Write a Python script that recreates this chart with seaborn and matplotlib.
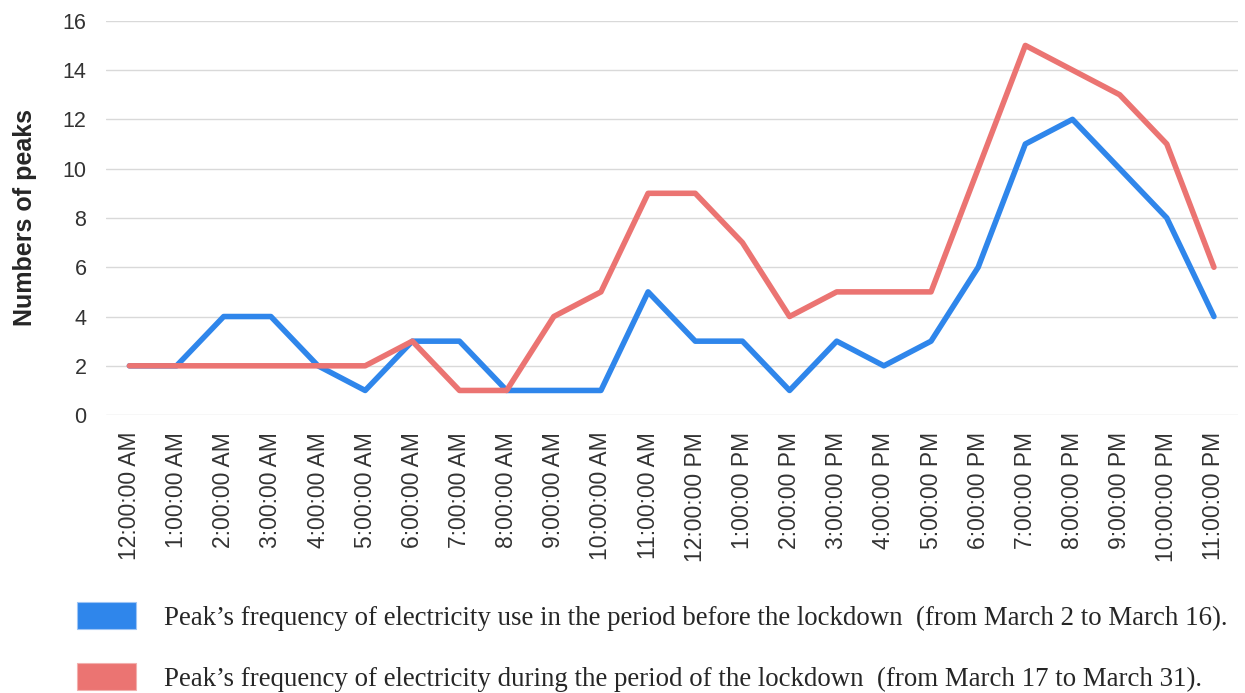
import matplotlib
matplotlib.use("Agg")
import matplotlib.pyplot as plt
from matplotlib.patches import Patch
import pandas as pd
import seaborn as sns

# hours of the day (x axis)
hours = ["12:00:00 AM", "1:00:00 AM", "2:00:00 AM", "3:00:00 AM", "4:00:00 AM",
         "5:00:00 AM", "6:00:00 AM", "7:00:00 AM", "8:00:00 AM", "9:00:00 AM",
         "10:00:00 AM", "11:00:00 AM", "12:00:00 PM", "1:00:00 PM", "2:00:00 PM",
         "3:00:00 PM", "4:00:00 PM", "5:00:00 PM", "6:00:00 PM", "7:00:00 PM",
         "8:00:00 PM", "9:00:00 PM", "10:00:00 PM", "11:00:00 PM"]

before = [2, 2, 4, 4, 2, 1, 3, 3, 1, 1, 1, 5, 3, 3, 1, 3, 2, 3, 6, 11, 12, 10, 8, 4]
during = [2, 2, 2, 2, 2, 2, 3, 1, 1, 4, 5, 9, 9, 7, 4, 5, 5, 5, 10, 15, 14, 13, 11, 6]

label_before = "Peak\u2019s frequency of electricity use in the period before the lockdown  (from March 2 to March 16)."
label_during = "Peak\u2019s frequency of electricity during the period of the lockdown  (from March 17 to March 31)."

blue = "#2F86EB"
red = "#EB7472"

df = pd.DataFrame({"hour": list(range(len(hours))) * 2,
                   "peaks": before + during,
                   "period": ["before"] * len(hours) + ["during"] * len(hours)})

sns.set_style("white")
plt.rcParams["font.family"] = ["Liberation Sans", "DejaVu Sans"]

fig = plt.figure(figsize=(12.45, 6.93), dpi=100)
ax = fig.add_axes([0.085, 0.401, 0.909, 0.569])

sns.lineplot(data=df, x="hour", y="peaks", hue="period",
             palette={"before": blue, "during": red}, linewidth=4,
             legend=False, ax=ax)

ax.set_xlim(-0.5, len(hours) - 0.5)
ax.set_ylim(0, 16)
ax.set_yticks(range(0, 17, 2))
ax.set_xticks(range(len(hours)))
ax.set_xticklabels(hours, rotation=90, fontsize=16.5, color="#333333")
ax.tick_params(axis="y", labelsize=15.5, labelcolor="#333333", length=0, pad=14)
ax.tick_params(axis="x", length=0, pad=12)
ax.set_xlabel("")
ax.set_ylabel("Numbers of peaks", fontsize=18, fontweight="bold", labelpad=18)
ax.grid(axis="y", color="#d9d9d9", linewidth=1)
ax.set_axisbelow(True)
sns.despine(ax=ax, left=True, bottom=True)

handles = [Patch(facecolor=blue, edgecolor="#9ec5f5", linewidth=0.8),
           Patch(facecolor=red, edgecolor="#f2b0ae", linewidth=0.8)]
fig.legend(handles, [label_before, label_during], loc="upper left",
           bbox_to_anchor=(0.062, 0.131), frameon=False,
           prop={"family": ["Liberation Serif"], "size": 19.4},
           handlelength=2.2, handleheight=1.17, handletextpad=1.04,
           labelspacing=1.2, borderaxespad=0, borderpad=0)

fig.savefig("out.png", dpi=100)
